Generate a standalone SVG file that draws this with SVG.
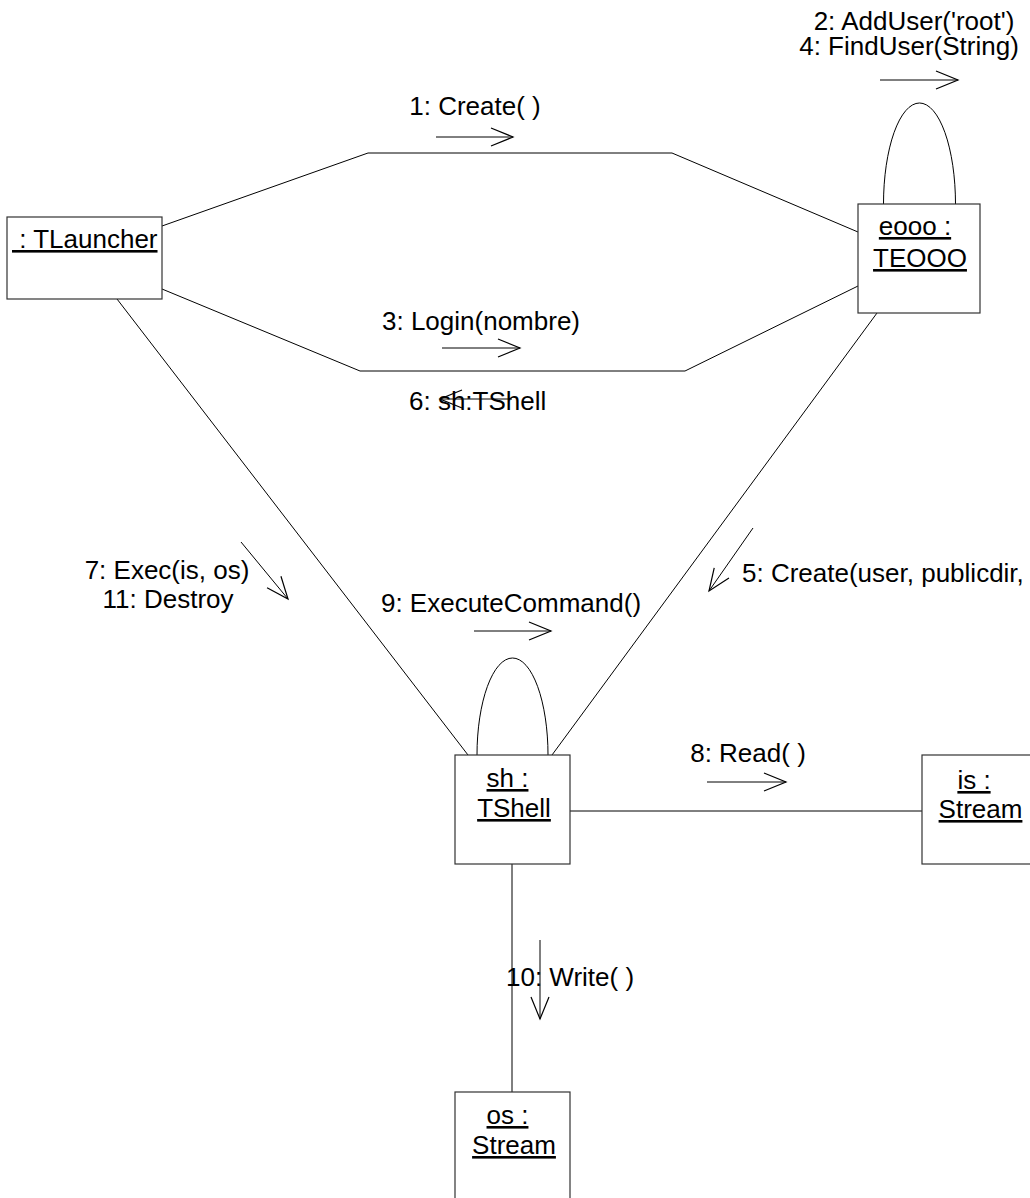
<svg xmlns="http://www.w3.org/2000/svg" width="1030" height="1198" viewBox="0 0 1030 1198">
  <style>
    text { font-family: "Liberation Sans", Arial, sans-serif; font-size: 26px; fill: #000; }
    .u { text-decoration: underline; }
    .mid { text-anchor: middle; }
    .box { fill: #fff; stroke: #333; stroke-width: 1.2; }
    .link { fill: none; stroke: #000; stroke-width: 1; }
    .msg { fill: none; stroke: #000; stroke-width: 1; marker-end: url(#open); }
  </style>
  <defs>
    <marker id="open" markerUnits="userSpaceOnUse" markerWidth="30" markerHeight="24" refX="22" refY="9" orient="auto" overflow="visible">
      <path d="M0,0 L22,9 L0,18" fill="none" stroke="#000" stroke-width="1.2"/>
    </marker>
  </defs>
  <rect width="1030" height="1198" fill="#fff"/>

  <!-- links between objects -->
  <g id="connectors">
    <polyline class="link" points="162,226 368,153 672,153 858,232"/>
    <polyline class="link" points="162,289 360,371 685,371 858,286"/>
    <line class="link" x1="117" y1="299" x2="468" y2="755"/>
    <line class="link" x1="877" y1="313" x2="552" y2="755"/>
    <line class="link" x1="570" y1="811" x2="922" y2="811"/>
    <line class="link" x1="512" y1="864" x2="512" y2="1092"/>
    <!-- self links -->
    <path class="link" d="M883.5,204 A36,101 0 0 1 955.5,204"/>
    <path class="link" d="M477,755 A35.5,97 0 0 1 548,755"/>

    <!-- messages -->
    <line class="msg" x1="436" y1="137" x2="513" y2="137"/>
    <line class="msg" x1="880" y1="80" x2="958" y2="80"/>
    <line class="msg" x1="442" y1="348" x2="520" y2="348"/>
    <line class="msg" x1="512" y1="399" x2="440" y2="399"/>
    <line class="msg" x1="241" y1="542" x2="288" y2="599"/>
    <line class="msg" x1="753" y1="528" x2="709" y2="591"/>
    <line class="msg" x1="474" y1="631" x2="551" y2="631"/>
    <line class="msg" x1="707" y1="782" x2="786" y2="782"/>
    <line class="msg" x1="540" y1="940" x2="540" y2="1019"/>

    <!-- message labels -->
    <text class="mid" x="475" y="115">1: Create( )</text>
    <text class="mid" x="914" y="30">2: AddUser('root')</text>
    <text class="mid" x="909" y="55">4: FindUser(String)</text>
    <text class="mid" x="481" y="330">3: Login(nombre)</text>
    <text x="409" y="410">6: sh:TShell</text>
    <text class="mid" x="167" y="579">7: Exec(is, os)</text>
    <text class="mid" x="168" y="608">11: Destroy</text>
    <text x="742" y="582">5: Create(user, publicdir,</text>
    <text class="mid" x="511" y="612">9: ExecuteCommand()</text>
    <text class="mid" x="748" y="762">8: Read( )</text>
    <text x="506" y="986">10: Write( )</text>
  </g>

  <g id="launcher">
    <rect class="box" x="7" y="217" width="155" height="82"/>
    <text class="u" x="12" y="248" xml:space="preserve"> : TLauncher</text>
  </g>

  <g id="eooo">
    <rect class="box" x="858" y="204" width="122" height="109"/>
    <text class="u mid" x="915" y="235">eooo :</text>
    <text class="u mid" x="920" y="267">TEOOO</text>
  </g>

  <g id="sh">
    <rect class="box" x="455" y="755" width="115" height="109"/>
    <text class="u mid" x="507.5" y="787">sh :</text>
    <text class="u mid" x="514" y="817">TShell</text>
  </g>

  <g id="is">
    <rect class="box" x="922" y="755" width="115" height="109"/>
    <text class="u mid" x="974" y="789">is :</text>
    <text class="u mid" x="980.5" y="818">Stream</text>
  </g>

  <g id="os">
    <rect class="box" x="455" y="1092" width="115" height="109"/>
    <text class="u mid" x="507.5" y="1124">os :</text>
    <text class="u mid" x="514" y="1154">Stream</text>
  </g>
</svg>
